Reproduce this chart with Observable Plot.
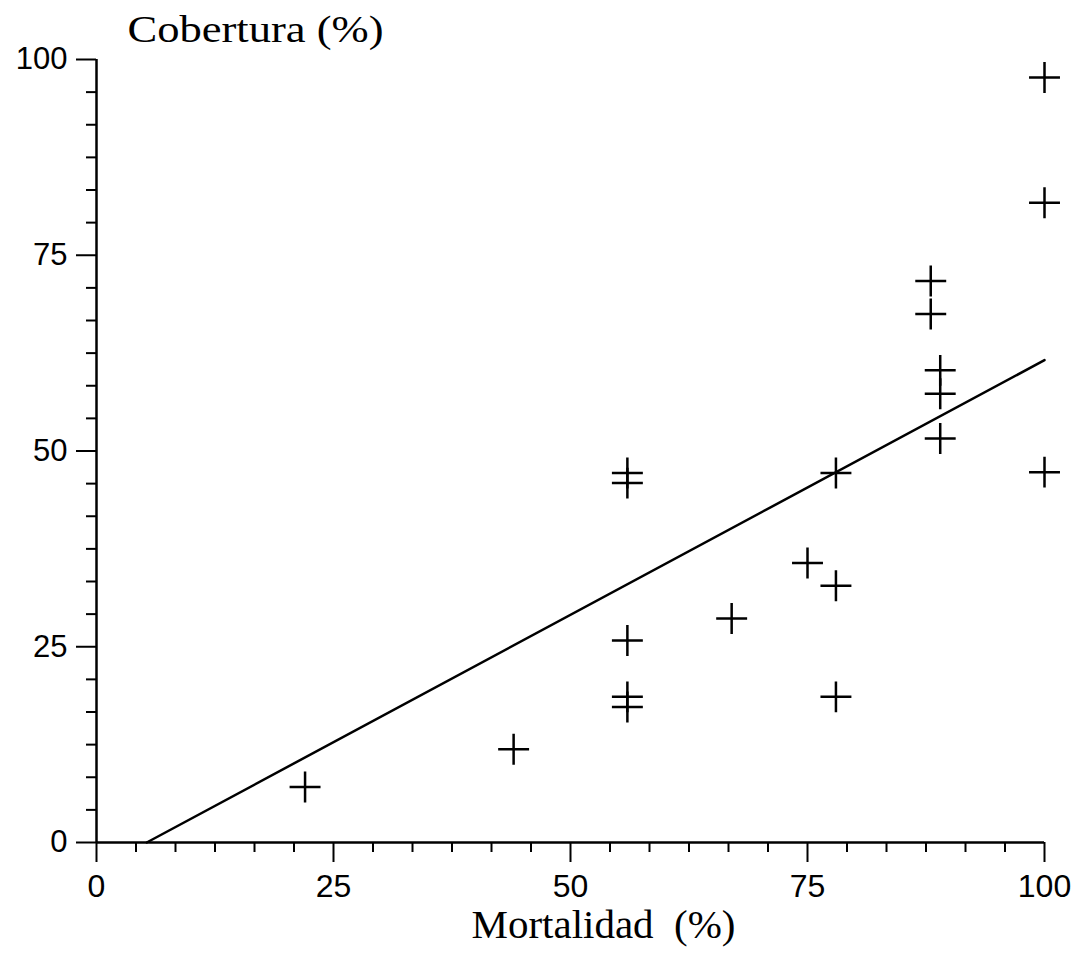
<!DOCTYPE html>
<html>
<head>
<meta charset="utf-8">
<script src="https://cdn.jsdelivr.net/npm/d3@7"></script>
<script src="https://cdn.jsdelivr.net/npm/@observablehq/plot@0.6"></script>
<style>
  html, body { margin: 0; padding: 0; background: #fff; }
  #chart svg { display: block; }
</style>
</head>
<body>
<div id="chart"></div>
<script>
// Data
const mortalidad = [22, 44, 56, 56, 56, 56, 56, 67, 75, 78, 78, 78, 88, 88, 89, 89, 89, 100, 100, 100];
const cobertura  = [7.1, 11.9, 47.2, 45.9, 25.8, 18.6, 17.3, 28.6, 35.7, 47.2, 32.8, 18.6, 71.7, 67.5, 60.3, 57.3, 51.6, 97.7, 81.7, 47.3];
// Fitted regression line (endpoints as drawn)
const fitX = [5.3, 100];
const fitY = [0, 61.6];
const majorTicks = [0, 25, 50, 75, 100];
const minorTicks = d3.range(0, 24).map(i => i * 25 / 6).filter(v => !majorTicks.includes(v) && v < 100);
const xTitle = "Mortalidad  (%)";
const yTitle = "Cobertura (%)";

const points = mortalidad.map((m, i) => ({x: m, y: cobertura[i]}));
const fit = fitX.map((x, i) => ({x, y: fitY[i]}));

const chart = Plot.plot({
  width: 1077,
  height: 957,
  marginLeft: 96,
  marginRight: 33,
  marginTop: 59,
  marginBottom: 115,
  style: {fontFamily: "'Liberation Sans', Arial, sans-serif", background: "#fff", color: "#000", fontSize: "31px"},
  x: {domain: [0, 100]},
  y: {domain: [0, 100]},
  marks: [
    Plot.axisX({ticks: minorTicks, tickSize: 10, text: null, label: null, strokeWidth: 2}),
    Plot.axisX({ticks: majorTicks, tickSize: 20, tickPadding: 12, fontSize: 32, label: null, strokeWidth: 2}),
    Plot.axisY({ticks: minorTicks, tickSize: 10, text: null, label: null, strokeWidth: 2}),
    Plot.axisY({ticks: majorTicks, tickSize: 20, tickPadding: 9, fontSize: 31, label: null, strokeWidth: 2}),
    Plot.ruleY([0], {stroke: "#000", strokeWidth: 2.5}),
    Plot.ruleX([0], {stroke: "#000", strokeWidth: 2.5}),
    Plot.line(fit, {x: "x", y: "y", stroke: "#000", strokeWidth: 2.5}),
    Plot.dot(points, {x: "x", y: "y", symbol: "plus", r: 10, stroke: "#000", strokeWidth: 2.5}),
    Plot.text([yTitle], {frameAnchor: "top-left", dx: 31, dy: -44, textAnchor: "start", fontSize: 37, fontFamily: "'Liberation Serif', 'Times New Roman', serif", fill: "#000", className: "ytitle"}),
    Plot.text([xTitle], {frameAnchor: "bottom", dx: 33, dy: 95, fontSize: 39, fontFamily: "'Liberation Serif', 'Times New Roman', serif", fill: "#000", className: "xtitle"})
  ]
});
document.getElementById("chart").appendChild(chart);
// stretch the serif titles horizontally to the reference widths
const yt = chart.querySelector(".ytitle text");
if (yt) { yt.setAttribute("textLength", 256); yt.setAttribute("lengthAdjust", "spacingAndGlyphs"); }
const xt = chart.querySelector(".xtitle text");
if (xt) { xt.setAttribute("textLength", 264); xt.setAttribute("lengthAdjust", "spacingAndGlyphs"); }
</script>
</body>
</html>
